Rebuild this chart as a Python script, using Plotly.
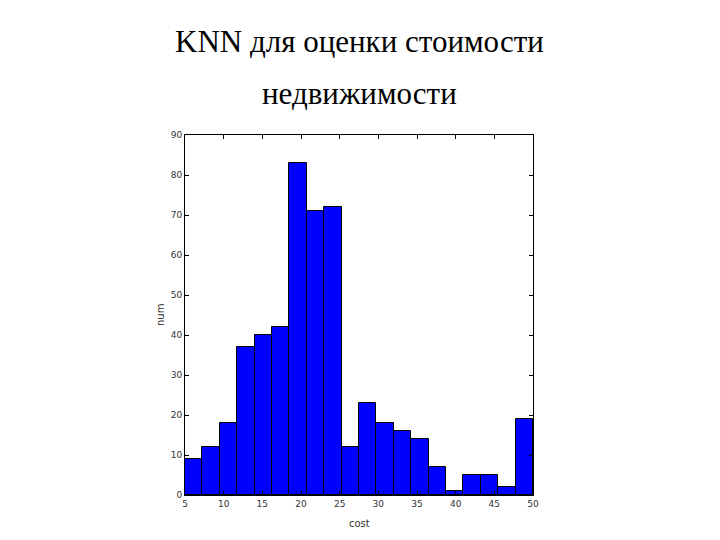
import plotly.graph_objects as go

counts = [9, 12, 18, 37, 40, 42, 83, 71, 72, 12, 23, 18, 16, 14, 7, 1, 5, 5, 2, 19]
bin_start = 5.0
bin_end = 50.0
x_ticks = [5, 10, 15, 20, 25, 30, 35, 40, 45, 50]
y_ticks = [0, 10, 20, 30, 40, 50, 60, 70, 80, 90]
title_lines = ["KNN для оценки стоимости", "недвижимости"]

n = len(counts)
w = (bin_end - bin_start) / n
centers = [bin_start + w * (i + 0.5) for i in range(n)]

fig = go.Figure(go.Bar(
    x=centers, y=counts, width=[w] * n,
    marker=dict(color="#0000ff", line=dict(color="#000000", width=1)),
))

axis_common = dict(showgrid=False, zeroline=False, showline=True, linecolor="#000000",
                   linewidth=1, mirror="ticks", ticks="inside", ticklen=4,
                   tickcolor="#000000",
                   tickfont=dict(family="DejaVu Sans", size=9, color="#333333"))

fig.update_layout(
    width=720, height=540,
    paper_bgcolor="white", plot_bgcolor="white",
    margin=dict(l=185, r=187, t=135, b=45, autoexpand=False),
    showlegend=False,
    bargap=0,
    xaxis=dict(range=[bin_start, bin_end], tickvals=x_ticks, **axis_common),
    yaxis=dict(range=[0, 90], tickvals=y_ticks, **axis_common),
)

title_font = dict(family="Liberation Serif", size=31, color="#000000")
fig.add_annotation(text=title_lines[0], xref="paper", yref="paper", x=0.5, y=1,
                   yanchor="middle", yshift=94, showarrow=False, font=title_font)
fig.add_annotation(text=title_lines[1], xref="paper", yref="paper", x=0.5, y=1,
                   yanchor="middle", yshift=42, showarrow=False, font=title_font)
fig.add_annotation(text="num", xref="paper", yref="paper", x=0, y=0.5, xshift=-25,
                   xanchor="center", yanchor="middle",
                   showarrow=False, textangle=-90,
                   font=dict(family="DejaVu Sans", size=10, color="#333333"))
fig.add_annotation(text="cost", xref="paper", yref="paper", x=0.5, y=0, yshift=-28,
                   xanchor="center", yanchor="middle",
                   showarrow=False,
                   font=dict(family="DejaVu Sans", size=10, color="#333333"))

fig.write_html("out.html", config={"displayModeBar": False},
               post_script="document.body.style.margin='0';")
